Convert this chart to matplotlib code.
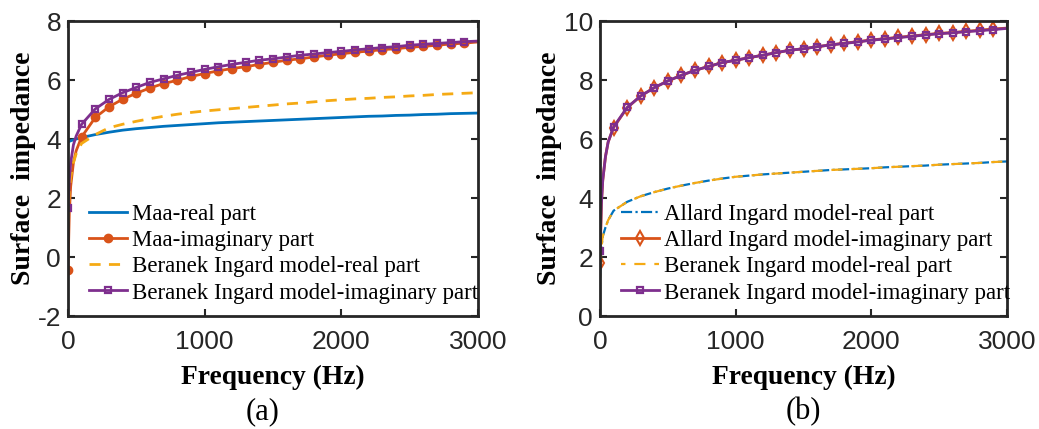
import matplotlib
matplotlib.use("Agg")
import matplotlib.pyplot as plt

plt.rcParams["axes.unicode_minus"] = False

# frequency grid (Hz)
freq = [0, 10, 20, 40, 60, 100, 200, 300, 400, 500, 600, 700, 800, 900, 1000,
        1100, 1200, 1300, 1400, 1500, 1600, 1700, 1800, 1900, 2000,
        2100, 2200, 2300, 2400, 2500, 2600, 2700, 2800, 2900, 3000]

# (a) Maa model vs Beranek-Ingard model
maa_real = [3.90, 3.92, 3.94, 3.97, 4.00, 4.05, 4.15, 4.23, 4.30, 4.35, 4.39, 4.43, 4.46, 4.49, 4.52,
            4.55, 4.57, 4.59, 4.61, 4.63, 4.65, 4.67, 4.69, 4.71, 4.73,
            4.75, 4.77, 4.78, 4.80, 4.81, 4.83, 4.84, 4.86, 4.87, 4.88]
maa_imag = [-0.45, 1.50, 2.40, 3.20, 3.60, 4.07, 4.73, 5.09, 5.35, 5.55, 5.73, 5.88, 5.99, 6.12, 6.22,
            6.31, 6.39, 6.45, 6.53, 6.60, 6.67, 6.72, 6.78, 6.84, 6.89,
            6.94, 6.98, 7.03, 7.06, 7.11, 7.14, 7.18, 7.22, 7.25, 7.29]
bi_real_a = [1.20, 2.20, 2.70, 3.20, 3.50, 3.85, 4.15, 4.38, 4.50, 4.60, 4.69, 4.77, 4.84, 4.90, 4.95,
             4.99, 5.03, 5.07, 5.11, 5.15, 5.19, 5.22, 5.26, 5.30, 5.33,
             5.36, 5.38, 5.41, 5.43, 5.46, 5.48, 5.51, 5.53, 5.55, 5.57]
bi_imag_a = [1.65, 2.60, 3.20, 3.80, 4.10, 4.50, 5.02, 5.34, 5.57, 5.75, 5.92, 6.04, 6.16, 6.26, 6.36,
             6.45, 6.53, 6.60, 6.67, 6.72, 6.78, 6.84, 6.88, 6.93, 6.97,
             7.02, 7.06, 7.10, 7.13, 7.18, 7.21, 7.24, 7.27, 7.30, 7.32]

# (b) Allard-Ingard model vs Beranek-Ingard model
ai_real = [1.30, 2.30, 2.70, 3.00, 3.25, 3.57, 3.87, 4.06, 4.20, 4.32, 4.42, 4.51, 4.59, 4.66, 4.72,
           4.76, 4.80, 4.83, 4.86, 4.89, 4.92, 4.95, 4.97, 4.99, 5.01,
           5.04, 5.06, 5.08, 5.10, 5.13, 5.15, 5.17, 5.19, 5.22, 5.24]
ai_imag = [1.80, 3.80, 4.60, 5.40, 5.90, 6.39, 7.06, 7.46, 7.74, 7.97, 8.16, 8.33, 8.46, 8.59, 8.67,
           8.76, 8.84, 8.93, 9.01, 9.06, 9.13, 9.19, 9.25, 9.30, 9.36,
           9.40, 9.45, 9.49, 9.54, 9.58, 9.61, 9.65, 9.69, 9.73, 9.76]
bi_real_b = ai_real
bi_imag_b = [2.20, 3.80, 4.60, 5.40, 5.90, 6.41, 7.07, 7.46, 7.74, 7.97, 8.16, 8.33, 8.46, 8.59, 8.67,
             8.76, 8.84, 8.93, 9.01, 9.06, 9.13, 9.19, 9.24, 9.29, 9.35,
             9.39, 9.44, 9.48, 9.53, 9.57, 9.60, 9.64, 9.67, 9.71, 9.75]

# markers only on the 100 Hz grid
mk = [i for i, f in enumerate(freq) if f % 100 == 0 and f < 3000]

BLUE = "#0072BD"
ORANGE = "#D95319"
YELLOW = "#F5AA14"
PURPLE = "#7E2F8E"

serif = "Liberation Serif"
sans = "Liberation Sans"

fig = plt.figure(figsize=(10.39, 4.29), dpi=100)
ax1 = fig.add_axes([0.0654, 0.2634, 0.3946, 0.6876])
ax2 = fig.add_axes([0.5775, 0.2634, 0.3917, 0.6876])

ax1.plot(freq, maa_real, color=BLUE, lw=2, label="Maa-real part")
ax1.plot(freq, maa_imag, color=ORANGE, lw=2, marker="o", ms=6, markevery=mk,
         label="Maa-imaginary part")
ax1.plot(freq, bi_real_a, color=YELLOW, lw=2, ls=(0, (4, 3)),
         label="Beranek Ingard model-real part")
ax1.plot(freq, bi_imag_a, color=PURPLE, lw=2, marker="s", ms=5, mfc="none", mew=1.6,
         markevery=mk, label="Beranek Ingard model-imaginary part")
ax1.set_ylim(-2, 8)
ax1.set_yticks([-2, 0, 2, 4, 6, 8])

ax2.plot(freq, ai_real, color=BLUE, lw=1.6, ls=(0, (5, 1.5, 1, 1.5)),
         label="Allard Ingard model-real part")
ax2.plot(freq, ai_imag, color=ORANGE, lw=2, marker="d", ms=7, mfc="none", mew=1.5,
         markevery=mk, label="Allard Ingard model-imaginary part")
ax2.plot(freq, bi_real_b, color=YELLOW, lw=1.6, ls=(3, (5, 4)),
         label="Beranek Ingard model-real part")
ax2.plot(freq, bi_imag_b, color=PURPLE, lw=2, marker="s", ms=5, mfc="none", mew=1.6,
         markevery=mk, label="Beranek Ingard model-imaginary part")
ax2.set_ylim(0, 10)
ax2.set_yticks([0, 2, 4, 6, 8, 10])

for ax, anchor in ((ax1, (0.03, 0.41)), (ax2, (0.03, 0.41))):
    ax.set_xlim(0, 3000)
    ax.set_xticks([0, 1000, 2000, 3000])
    ax.tick_params(direction="in", top=True, right=True, length=5, width=1.5,
                   labelsize=19, colors="#262626")
    ax.tick_params(axis="x", pad=10)
    ax.tick_params(axis="y", pad=5)
    for lbl in ax.get_xticklabels() + ax.get_yticklabels():
        lbl.set_fontfamily(sans)
    for s in ax.spines.values():
        s.set_linewidth(2)
        s.set_color("#262626")
    ax.set_xlabel("Frequency (Hz)", fontfamily=serif, fontweight="bold", fontsize=19.8, labelpad=8)
    ax.set_ylabel("Surface  impedance", fontfamily=serif, fontweight="bold", fontsize=20, labelpad=1)
    ax.legend(loc="upper left", bbox_to_anchor=anchor, frameon=False,
              prop={"family": serif, "size": 16.5}, handlelength=1.65,
              handletextpad=0.2, labelspacing=0.22, borderaxespad=0)

fig.text(263 / 1039, 1 - 412 / 429, "(a)", ha="center", va="center", fontfamily=serif, fontsize=22)
fig.text(803 / 1039, 1 - 412 / 429, "(b)", ha="center", va="center", fontfamily=serif, fontsize=22)

fig.savefig("out.png", dpi=100)
